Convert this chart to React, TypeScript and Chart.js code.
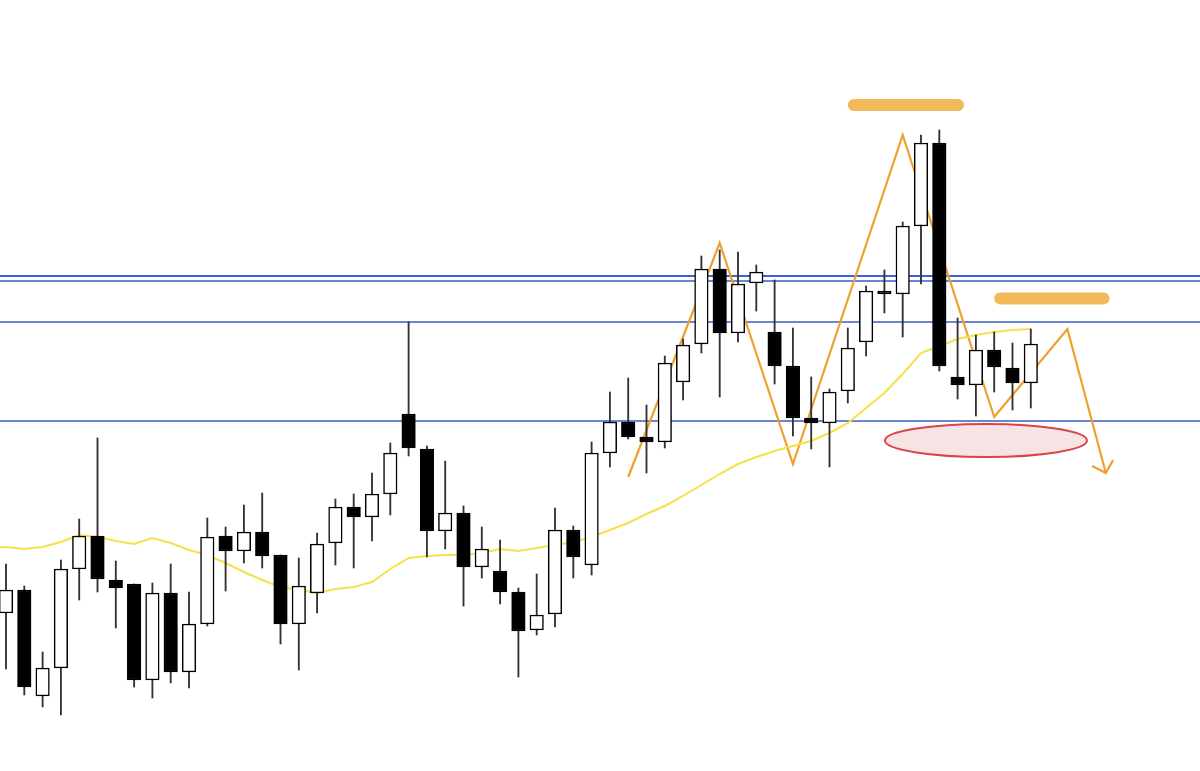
import { useEffect, useRef } from 'react';
import { Chart, registerables } from 'chart.js';
Chart.register(...registerables);

// Candle data (price points), one entry per session
const opens = [387, 410, 304, 332, 431, 464, 420, 416, 320, 407, 328, 376, 464, 449, 468, 445, 376, 407, 457, 493, 483, 506, 586, 551, 469, 487, 433, 429, 408, 370, 386, 470, 435, 547, 578, 563, 558, 618, 656, 731, 667, 717, 668, 634, 582, 577, 609, 658, 709, 706, 774, 857, 623, 615, 650, 632, 617];
const highs = [436, 414, 348, 440, 481, 562, 439, 416, 417, 436, 408, 482, 473, 495, 507, 445, 442, 467, 501, 506, 527, 557, 678, 554, 539, 494, 473, 460, 412, 426, 492, 474, 558, 608, 622, 595, 644, 661, 744, 750, 748, 735, 720, 672, 623, 611, 672, 714, 730, 778, 865, 870, 682, 665, 668, 657, 671];
const lows = [331, 305, 293, 285, 400, 408, 372, 313, 302, 317, 312, 374, 409, 437, 432, 356, 330, 387, 435, 432, 459, 485, 544, 443, 451, 394, 422, 396, 323, 365, 373, 422, 425, 533, 561, 527, 552, 600, 647, 603, 658, 689, 616, 564, 551, 533, 597, 644, 687, 663, 716, 629, 601, 584, 608, 590, 592];
const closes = [410, 313, 332, 431, 464, 421, 412, 320, 407, 328, 376, 463, 449, 468, 444, 376, 414, 456, 493, 483, 506, 547, 552, 469, 487, 433, 451, 408, 369, 385, 470, 443, 547, 578, 563, 558, 637, 655, 731, 667, 716, 728, 634, 582, 577, 608, 652, 709, 706, 774, 857, 634, 615, 650, 633, 617, 656];
// Moving average value of the session just before the first visible candle
const movingAvgPrev = 452;
// Moving average, one per visible session
const movingAvg = [453, 451, 453, 458, 465, 463, 459, 456, 462, 457, 450, 445, 437, 428, 420, 413, 410, 407, 411, 413, 418, 431, 442, 444, 445, 445, 447, 451, 449, 452, 455, 458, 463, 470, 477, 486, 494, 504, 515, 526, 536, 543, 549, 554, 559, 567, 577, 592, 607, 626, 647, 654, 661, 665, 668, 670, 671];
// Horizontal price levels
const levels = [724, 719, 678, 579];
// Scenario zigzag (session index, price)
const zigX = [34, 39, 43, 49, 54, 58, 60.1];
const zigY = [523, 757, 536, 865, 583, 671, 527];
const arrowX = [59.35, 60.1, 60.5];
const arrowY = [534, 527, 540];
// Highlight bars (start index, end index, price)
const pillStart = [46, 54];
const pillEnd = [52.35, 60.3];
const pillPrice = [895, 701.5];
// Target zone ellipse (center index, center price, half-width in sessions, half-height in price)
const zoneCenterX = 53.55;
const zoneCenterY = 559.5;
const zoneHalfX = 5.52;
const zoneHalfY = 16.5;

const levelColors = ['#3d5fe6', '#6a86d0', '#6a86d0', '#6a86d0'];

const overlay = {
  id: 'overlay',
  beforeDatasetsDraw(chart: any) {
    const { ctx, chartArea, scales } = chart;
    ctx.save();
    levels.forEach((lv, k) => {
      const y = scales.y.getPixelForValue(lv);
      ctx.strokeStyle = levelColors[k];
      ctx.lineWidth = 2;
      ctx.beginPath();
      ctx.moveTo(chartArea.left, y);
      ctx.lineTo(chartArea.right, y);
      ctx.stroke();
    });
    ctx.restore();
  },
  afterDatasetsDraw(chart: any) {
    const { ctx, scales } = chart;
    ctx.save();
    ctx.strokeStyle = '#f1b95a';
    ctx.lineCap = 'round';
    ctx.lineWidth = 12;
    pillStart.forEach((s, k) => {
      const x1 = scales.x.getPixelForValue(s) + 6;
      const x2 = scales.x.getPixelForValue(pillEnd[k]) - 6;
      const y = scales.y.getPixelForValue(pillPrice[k]);
      ctx.beginPath();
      ctx.moveTo(x1, y);
      ctx.lineTo(x2, y);
      ctx.stroke();
    });
    const cx = scales.x.getPixelForValue(zoneCenterX);
    const cy = scales.y.getPixelForValue(zoneCenterY);
    const rx = Math.abs(scales.x.getPixelForValue(zoneCenterX + zoneHalfX) - cx);
    const ry = Math.abs(scales.y.getPixelForValue(zoneCenterY + zoneHalfY) - cy);
    ctx.beginPath();
    ctx.ellipse(cx, cy, rx, ry, 0, 0, Math.PI * 2);
    ctx.fillStyle = '#f8e3e4';
    ctx.fill();
    ctx.lineWidth = 2;
    ctx.strokeStyle = '#d94448';
    ctx.stroke();
    ctx.restore();
  },
};

export default function App() {
  const ref = useRef<HTMLCanvasElement>(null);
  useEffect(() => {
    document.body.style.margin = '0';
    const canvas = ref.current;
    if (!canvas) return;
    const bodies = opens.map((o, i) => ({ x: i, y: [o, closes[i]] }));
    const wicks = lows.map((l, i) => ({ x: i, y: [l, highs[i]] }));
    const ma = [{ x: -1, y: movingAvgPrev }, ...movingAvg.map((v, i) => ({ x: i, y: v }))];
    const zig = zigX.map((x, i) => ({ x, y: zigY[i] }));
    const arrow = arrowX.map((x, i) => ({ x, y: arrowY[i] }));
    const chart = new Chart(canvas, {
      type: 'bar',
      data: {
        datasets: [
          {
            type: 'bar',
            data: bodies as any,
            backgroundColor: opens.map((o, i) => (closes[i] >= o ? '#ffffff' : '#000000')),
            borderColor: '#000000',
            borderWidth: 1.5,
            borderSkipped: false,
            barThickness: 13.5,
            grouped: false,
          } as any,
          {
            type: 'bar',
            data: wicks as any,
            backgroundColor: '#3a2e2e',
            borderWidth: 0,
            barThickness: 1.2,
            grouped: false,
          } as any,
          {
            type: 'line',
            data: ma as any,
            borderColor: '#f6e04c',
            borderWidth: 2,
            pointRadius: 0,
            tension: 0,
          } as any,
          {
            type: 'line',
            data: zig as any,
            borderColor: '#f0a02c',
            borderWidth: 2.2,
            pointRadius: 0,
            tension: 0,
          } as any,
          {
            type: 'line',
            data: arrow as any,
            borderColor: '#f0a02c',
            borderWidth: 2.2,
            pointRadius: 0,
            tension: 0,
          } as any,
        ],
      },
      options: {
        animation: false,
        responsive: false,
        maintainAspectRatio: false,
        layout: { padding: 0 },
        plugins: { legend: { display: false }, tooltip: { enabled: false } },
        scales: {
          x: { type: 'linear', min: -0.328, max: 65.246, display: false, offset: false },
          y: { min: 229, max: 1000, display: false },
        },
      } as any,
      plugins: [overlay],
    });
    return () => chart.destroy();
  }, []);
  return (
    <div style={{ width: 1200, height: 771, background: '#ffffff' }}>
      <canvas ref={ref} width={1200} height={771} style={{ display: 'block' }} />
    </div>
  );
}
